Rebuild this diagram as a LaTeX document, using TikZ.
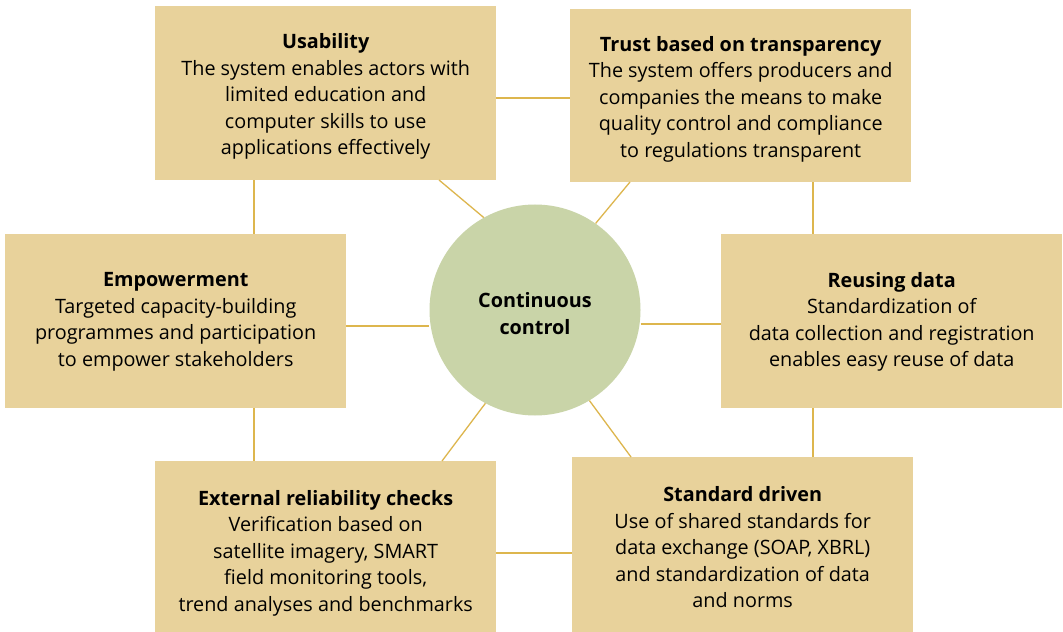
\documentclass[tikz,border=0pt]{standalone}
\usepackage{fontspec}
\setmainfont{Open Sans}
\definecolor{boxfill}{HTML}{E8D29B}
\definecolor{circfill}{HTML}{C9D4A8}
\definecolor{linkcol}{HTML}{DDB64E}
\begin{document}
\begin{tikzpicture}[x=1bp,y=-1bp,
  box/.style={fill=boxfill,draw=none,anchor=north west,minimum width=341bp,inner sep=0pt},
  txt/.style={align=center,inner sep=0pt,yshift=-3.5bp,font=\fontsize{19.8bp}{26.5bp}\selectfont},
  link/.style={draw=linkcol,line width=1.3bp}]
\useasboundingbox[fill=white] (0,0) rectangle (1063,632);
\node[box,minimum height=174bp] (usab) at (155,6) {};
\node[box,minimum height=173bp] (trust) at (570,9) {};
\node[box,minimum height=174bp] (emp) at (5,234) {};
\node[box,minimum height=174bp] (reuse) at (721,234) {};
\node[box,minimum height=171bp] (ext) at (155,461) {};
\node[box,minimum height=175bp] (std) at (572,457) {};
\node[circle,fill=circfill,minimum size=211bp,inner sep=0pt] (cc) at (535,310) {};
\node[txt] (usabT) at (usab.center) {\textbf{Usability}\\The system enables actors with\\limited education and\\computer skills to use\\applications effectively};
\node[txt] (trustT) at (trust.center) {\textbf{Trust based on transparency}\\The system offers producers and\\companies the means to make\\quality control and compliance\\to regulations transparent};
\node[txt,yshift=3bp] (empT) at (emp.center) {\textbf{Empowerment}\\Targeted capacity-building\\programmes and participation\\to empower stakeholders};
\node[txt,yshift=3bp] (reuseT) at (reuse.center) {\textbf{Reusing data}\\Standardization of\\data collection and registration\\enables easy reuse of data};
\node[txt,yshift=-3bp] (extT) at (ext.center) {\textbf{External reliability checks}\\Verification based on\\satellite imagery, SMART\\field monitoring tools,\\trend analyses and benchmarks};
\node[txt,yshift=1bp] (stdT) at (std.center) {\textbf{Standard driven}\\Use of shared standards for\\data exchange (SOAP, XBRL)\\and standardization of data\\and norms};
\node[txt,font=\fontsize{19.8bp}{26.5bp}\selectfont\bfseries] (ccT) at (cc.center) {Continuous\\control};
\coordinate (h98) at (0,98);
\coordinate (h553) at (0,553);
\coordinate (h326) at (0,326);
\coordinate (h324) at (0,324);
\coordinate (v254) at (254,0);
\coordinate (v813) at (813,0);
\coordinate (ul) at (439,180);
\coordinate (ur) at (630,182);
\coordinate (ll) at (442,461);
\coordinate (lr) at (631,457);
\draw[link] (usab.east |- h98) -- (trust.west |- h98);
\draw[link] (ext.east |- h553) -- (std.west |- h553);
\draw[link] (usab.south -| v254) -- (emp.north -| v254);
\draw[link] (emp.south -| v254) -- (ext.north -| v254);
\draw[link] (trust.south -| v813) -- (reuse.north -| v813);
\draw[link] (reuse.south -| v813) -- (std.north -| v813);
\draw[link] (emp.east |- h326) -- (cc.west |- h326);
\draw[link] (cc.east |- h324) -- (reuse.west |- h324);
\draw[link] (ul) -- (cc.119.5);
\draw[link] (ur) -- (cc.55.6);
\draw[link] (ll) -- (cc.242.2);
\draw[link] (lr) -- (cc.301.9);
\end{tikzpicture}
\end{document}
